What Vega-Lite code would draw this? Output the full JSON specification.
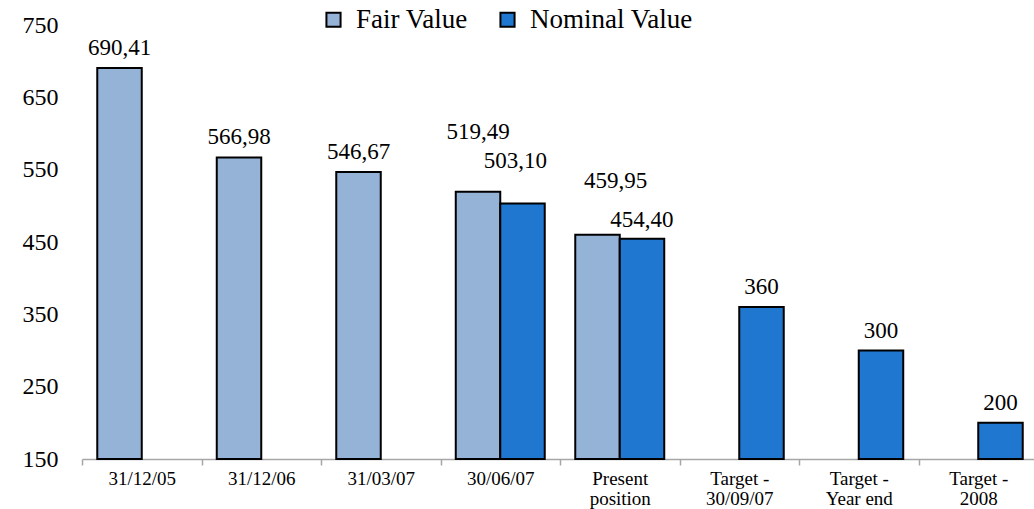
{
  "$schema": "https://vega.github.io/schema/vega-lite/v6.json",
  "width": 956,
  "height": 434,
  "autosize": {"type": "none"},
  "padding": {"left": 82, "top": 25, "right": 0, "bottom": 50},
  "background": "white",
  "config": {
    "view": {"stroke": null},
    "font": "Liberation Serif",
    "text": {"font": "Liberation Serif"},
    "legend": {"labelFont": "Liberation Serif"},
    "axis": {"labelFont": "Liberation Serif"}
  },
  "data": {
    "values": [
      {"period": "31/12/05", "series": "Fair Value", "value": 690.41, "label": "690,41"},
      {"period": "31/12/06", "series": "Fair Value", "value": 566.98, "label": "566,98"},
      {"period": "31/03/07", "series": "Fair Value", "value": 546.67, "label": "546,67"},
      {"period": "30/06/07", "series": "Fair Value", "value": 519.49, "label": "519,49"},
      {"period": "30/06/07", "series": "Nominal Value", "value": 503.10, "label": "503,10"},
      {"period": "Present position", "series": "Fair Value", "value": 459.95, "label": "459,95"},
      {"period": "Present position", "series": "Nominal Value", "value": 454.40, "label": "454,40"},
      {"period": "Target - 30/09/07", "series": "Nominal Value", "value": 360, "label": "360"},
      {"period": "Target - Year end", "series": "Nominal Value", "value": 300, "label": "300"},
      {"period": "Target - 2008", "series": "Nominal Value", "value": 200, "label": "200"}
    ]
  },
  "encoding": {
    "x": {
      "field": "period",
      "type": "nominal",
      "sort": null,
      "scale": {
        "domain": ["31/12/05", "31/12/06", "31/03/07", "30/06/07", "Present position", "Target - 30/09/07", "Target - Year end", "Target - 2008"],
        "paddingInner": 0,
        "paddingOuter": 0
      },
      "axis": {
        "title": null,
        "labelAngle": 0,
        "labelFontSize": 19,
        "labelColor": "black",
        "labelFont": "Liberation Serif",
        "labelPadding": 4,
        "labelLineHeight": 20,
        "domainColor": "#A6A6A6",
        "domainWidth": 1.5,
        "tickColor": "#A6A6A6",
        "tickWidth": 1.5,
        "tickSize": 6,
        "tickBand": "extent",
        "labelExpr": "indexof(datum.label, 'Target - ') == 0 ? ['Target -', substring(datum.label, 9)] : (datum.label == 'Present position' ? ['Present', 'position'] : datum.label)"
      }
    },
    "xOffset": {
      "field": "series",
      "type": "nominal",
      "scale": {"domain": ["Fair Value", "Nominal Value"], "paddingInner": 0, "paddingOuter": 0.343}
    },
    "y": {
      "field": "value",
      "type": "quantitative",
      "scale": {"domain": [150, 750], "zero": false, "nice": false},
      "axis": {
        "title": null,
        "values": [150, 250, 350, 450, 550, 650, 750],
        "labelFontSize": 24,
        "labelColor": "black",
        "labelFont": "Liberation Serif",
        "labelPadding": 24,
        "ticks": false,
        "domain": false,
        "grid": false
      }
    }
  },
  "layer": [
    {
      "mark": {"type": "bar", "stroke": "black", "strokeWidth": 2},
      "encoding": {
        "y2": {"datum": 150},
        "color": {
          "field": "series",
          "type": "nominal",
          "scale": {"domain": ["Fair Value", "Nominal Value"], "range": ["#95B3D7", "#1F77D0"]},
          "legend": {
            "title": null,
            "orient": "none",
            "legendX": 238,
            "legendY": -19,
            "direction": "horizontal",
            "padding": 0,
            "symbolType": "square",
            "symbolSize": 200,
            "symbolStrokeColor": "black",
            "symbolStrokeWidth": 2,
            "symbolOpacity": 1,
            "labelFontSize": 27,
            "labelFont": "Liberation Serif",
            "labelColor": "black",
            "labelLimit": 400,
            "labelOffset": 9,
            "columnPadding": 26
          }
        }
      }
    },
    {
      "transform": [{"filter": "datum.period != '30/06/07' && datum.period != 'Present position'"}],
      "mark": {"type": "text", "dy": -13, "baseline": "alphabetic", "fontSize": 23, "font": "Liberation Serif", "color": "black"},
      "encoding": {"text": {"field": "label"}}
    },
    {
      "transform": [{"filter": "datum.period == '30/06/07' && datum.series == 'Fair Value'"}],
      "mark": {"type": "text", "dy": -53, "baseline": "alphabetic", "fontSize": 23, "font": "Liberation Serif", "color": "black"},
      "encoding": {"text": {"field": "label"}}
    },
    {
      "transform": [{"filter": "datum.period == '30/06/07' && datum.series == 'Nominal Value'"}],
      "mark": {"type": "text", "dy": -36, "dx": -7, "baseline": "alphabetic", "fontSize": 23, "font": "Liberation Serif", "color": "black"},
      "encoding": {"text": {"field": "label"}}
    },
    {
      "transform": [{"filter": "datum.period == 'Present position' && datum.series == 'Fair Value'"}],
      "mark": {"type": "text", "dy": -47, "dx": 18, "baseline": "alphabetic", "fontSize": 23, "font": "Liberation Serif", "color": "black"},
      "encoding": {"text": {"field": "label"}}
    },
    {
      "transform": [{"filter": "datum.period == 'Present position' && datum.series == 'Nominal Value'"}],
      "mark": {"type": "text", "dy": -12, "baseline": "alphabetic", "fontSize": 23, "font": "Liberation Serif", "color": "black"},
      "encoding": {"text": {"field": "label"}}
    }
  ]
}
